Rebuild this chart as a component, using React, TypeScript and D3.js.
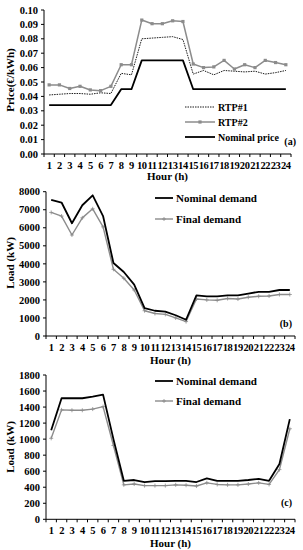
import * as d3 from "d3";

const hours = d3.range(1, 25).map(String);

// panel (a) prices €/kWh
const nominalPrice = [0.034, 0.034, 0.034, 0.034, 0.034, 0.034, 0.034, 0.045, 0.045, 0.065, 0.065, 0.065, 0.065, 0.065, 0.045, 0.045, 0.045, 0.045, 0.045, 0.045, 0.045, 0.045, 0.045, 0.045];
const rtp1 = [0.041, 0.0415, 0.042, 0.042, 0.0415, 0.0425, 0.042, 0.056, 0.055, 0.080, 0.0805, 0.081, 0.0815, 0.0795, 0.0555, 0.058, 0.055, 0.058, 0.0575, 0.057, 0.0575, 0.0555, 0.0565, 0.058];
const rtp2 = [0.048, 0.048, 0.0455, 0.047, 0.0445, 0.044, 0.047, 0.062, 0.062, 0.093, 0.0905, 0.0905, 0.0925, 0.092, 0.0625, 0.060, 0.0605, 0.065, 0.059, 0.062, 0.060, 0.065, 0.0635, 0.062];
const priceTicks = [0, 0.01, 0.02, 0.03, 0.04, 0.05, 0.06, 0.07, 0.08, 0.09, 0.1];

// panel (b) load kW
const nominalB = [7550, 7400, 6250, 7250, 7800, 6650, 4050, 3550, 2850, 1550, 1400, 1350, 1150, 900, 2250, 2200, 2200, 2250, 2250, 2350, 2450, 2450, 2550, 2550];
const finalB = [6850, 6650, 5600, 6550, 7050, 6050, 3700, 3200, 2550, 1400, 1250, 1200, 1000, 800, 2050, 2000, 1980, 2080, 2050, 2150, 2200, 2220, 2300, 2300];
const ticksB = [0, 1000, 2000, 3000, 4000, 5000, 6000, 7000, 8000];

// panel (c) load kW
const nominalC = [1110, 1510, 1510, 1510, 1530, 1555, 1000, 480, 490, 465, 475, 475, 480, 480, 465, 510, 480, 480, 480, 490, 505, 480, 690, 1250];
const finalC = [1010, 1365, 1360, 1360, 1375, 1405, 920, 430, 440, 420, 420, 420, 430, 425, 415, 455, 435, 430, 430, 440, 455, 435, 620, 1130];
const ticksC = [0, 200, 400, 600, 800, 1000, 1200, 1400, 1600, 1800];

const FONT = "'Liberation Serif', 'DejaVu Serif', serif";
const GRAY = "#8c8c8c";

type Series = { values: number[]; color: string; width: number; dash?: string; marker?: "square" | "plus" };

function Panel({ x0, x1, yTop, yBot, domain, ticks, fmt, yLabel, labelY, hourY, series, legend, legendX, legendLineW, legendYs, legendFont, tag, tagX, tagY }: any) {
  const x = d3.scaleBand().domain(hours).range([x0, x1]).padding(0);
  const y = d3.scaleLinear().domain(domain).range([yBot, yTop]);
  const cx = (i: number) => (x(hours[i]) as number) + x.bandwidth() / 2;
  const line = d3.line<number>().x((d, i) => cx(i)).y((d) => y(d));
  return (
    <g fontFamily={FONT} fontWeight="bold">
      {/* axes */}
      <line x1={x0} x2={x0} y1={y(domain[1])} y2={yBot} stroke="#000" strokeWidth={1} />
      <line x1={x0} x2={x1} y1={yBot} y2={yBot} stroke="#000" strokeWidth={1} />
      {ticks.map((t: number) => (
        <g key={t}>
          <line x1={x0 - 3} x2={x0} y1={y(t)} y2={y(t)} stroke="#000" />
          <text x={x0 - 6} y={y(t)} dy="0.35em" textAnchor="end" fontSize={10.5}>{fmt(t)}</text>
        </g>
      ))}
      {hours.map((h) => (
        <line key={h} x1={(x(h) as number) + x.bandwidth()} x2={(x(h) as number) + x.bandwidth()} y1={yBot} y2={yBot + 3} stroke="#000" />
      ))}
      <line x1={x0} x2={x0} y1={yBot} y2={yBot + 3} stroke="#000" />
      {hours.map((h, i) => (
        <text key={h} x={cx(i)} y={yBot + 15} textAnchor="middle" fontSize={10.5} letterSpacing={-0.4}>{h}</text>
      ))}
      <text x={(x0 + x1) / 2} y={hourY} textAnchor="middle" fontSize={11}>Hour (h)</text>
      <text transform={`translate(10,${labelY}) rotate(-90)`} textAnchor="middle" dy="0.35em" fontSize={11}>{yLabel}</text>
      {/* series */}
      {series.map((s: Series, k: number) => (
        <g key={k}>
          <path d={line(s.values) as string} fill="none" stroke={s.color} strokeWidth={s.width} strokeDasharray={s.dash} strokeLinejoin="round" />
          {s.marker === "square" && s.values.map((v, i) => (
            <rect key={i} x={cx(i) - 1.6} y={y(v) - 1.6} width={3.2} height={3.2} fill={s.color} />
          ))}
          {s.marker === "plus" && s.values.map((v, i) => (
            <path key={i} d={`M${cx(i) - 2},${y(v)}h4M${cx(i)},${y(v) - 2}v4`} stroke={s.color} strokeWidth={0.8} />
          ))}
        </g>
      ))}
      {/* legend */}
      {legend.map((l: any, k: number) => (
        <g key={k}>
          <line x1={legendX} x2={legendX + legendLineW} y1={legendYs[k]} y2={legendYs[k]} stroke={l.color} strokeWidth={l.width} strokeDasharray={l.dash} />
          {l.marker === "square" && <rect x={legendX + legendLineW / 2 - 1.6} y={legendYs[k] - 1.6} width={3.2} height={3.2} fill={l.color} />}
          {l.marker === "plus" && <path d={`M${legendX + legendLineW / 2 - 2},${legendYs[k]}h4M${legendX + legendLineW / 2},${legendYs[k] - 2}v4`} stroke={l.color} strokeWidth={0.8} />}
          <text x={legendX + legendLineW + 3} y={legendYs[k]} dy="0.35em" fontSize={legendFont}>{l.name}</text>
        </g>
      ))}
      <text x={tagX} y={tagY} dy="0.35em" textAnchor="end" fontSize={10}>{tag}</text>
    </g>
  );
}

export default function App() {
  const sA: Series[] = [
    { values: nominalPrice, color: "#000", width: 1.8 },
    { values: rtp1, color: "#000", width: 0.9, dash: "1.5,1" },
    { values: rtp2, color: GRAY, width: 1.5, marker: "square" },
  ];
  const legA = [
    { name: "RTP#1", color: "#000", width: 0.9, dash: "1.5,1" },
    { name: "RTP#2", color: GRAY, width: 1.5, marker: "square" },
    { name: "Nominal price", color: "#000", width: 1.8 },
  ];
  const sB: Series[] = [
    { values: finalB, color: GRAY, width: 1.4, marker: "plus" },
    { values: nominalB, color: "#000", width: 1.8 },
  ];
  const sC: Series[] = [
    { values: finalC, color: GRAY, width: 1.4, marker: "plus" },
    { values: nominalC, color: "#000", width: 1.8 },
  ];
  const legBC = [
    { name: "Nominal demand", color: "#000", width: 1.8 },
    { name: "Final demand", color: GRAY, width: 1.4, marker: "plus" },
  ];
  return (
    <svg width={303} height={550} style={{ position: "absolute", left: 0, top: 0, background: "#fff" }}>
      <Panel x0={44} x1={291} yTop={10} yBot={154} domain={[0, 0.1]} ticks={priceTicks} fmt={(t: number) => t.toFixed(2)}
        yLabel="Price(€/kWh)" labelY={80} hourY={180} series={sA} legend={legA} legendX={185} legendLineW={30}
        legendYs={[107, 122, 137]} legendFont={10} tag="(a)" tagX={296} tagY={141} />
      <Panel x0={46} x1={295} yTop={191.7} yBot={336} domain={[0, 8000]} ticks={ticksB} fmt={(t: number) => String(t)}
        yLabel="Load (kW)" labelY={263} hourY={364} series={sB} legend={legBC} legendX={155} legendLineW={18}
        legendYs={[198, 219]} legendFont={11} tag="(b)" tagX={292} tagY={323} />
      <Panel x0={46} x1={295} yTop={375} yBot={519.3} domain={[0, 1800]} ticks={ticksC} fmt={(t: number) => String(t)}
        yLabel="Load (kW)" labelY={447} hourY={547} series={sC} legend={legBC} legendX={155} legendLineW={18}
        legendYs={[381, 401]} legendFont={11} tag="(c)" tagX={292} tagY={502} />
    </svg>
  );
}
